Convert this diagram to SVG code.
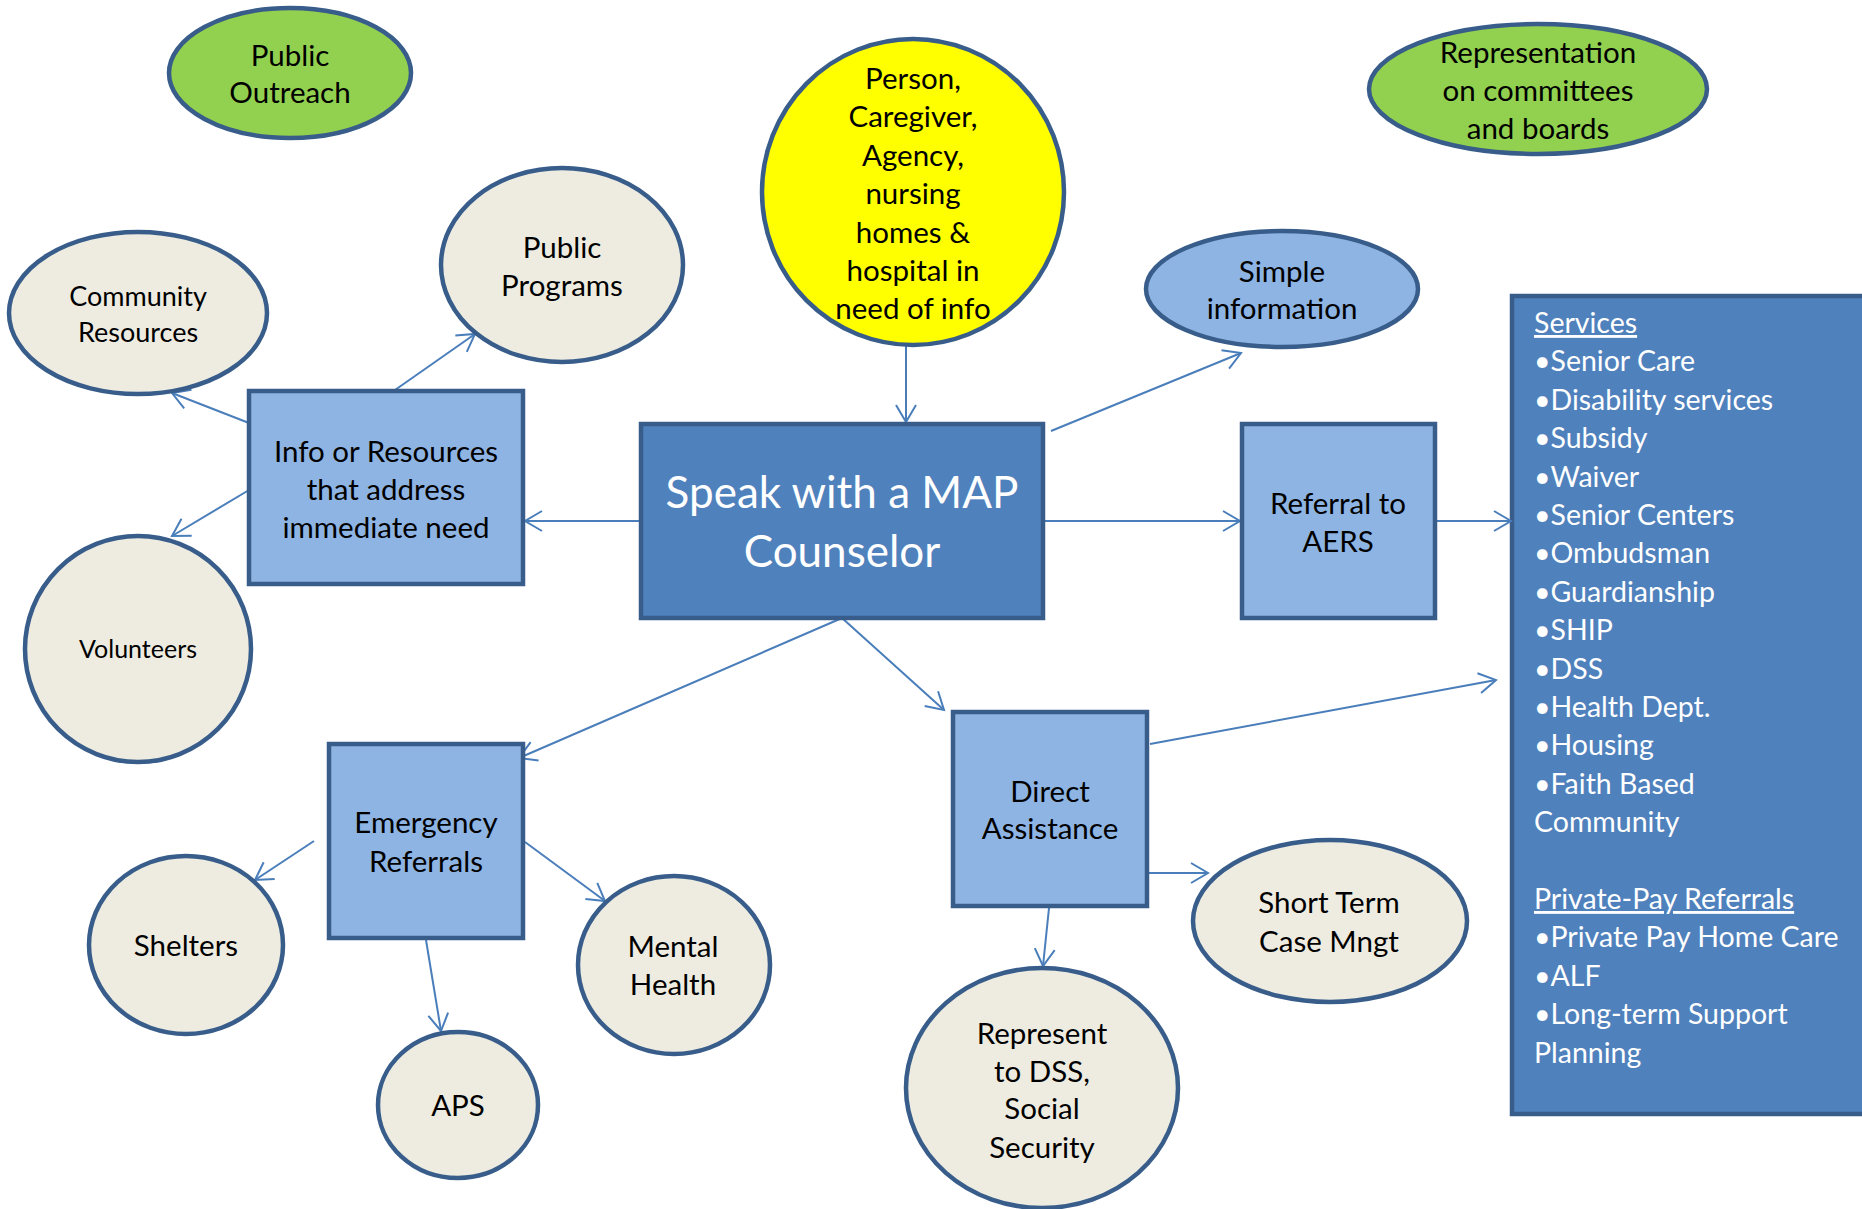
<svg xmlns="http://www.w3.org/2000/svg" width="1862" height="1209" viewBox="0 0 1862 1209">
<style>
.t{font-family:Lato,"Liberation Sans",sans-serif;font-size:29.5px;fill:#000;text-anchor:middle}
.w{fill:#fff}
.el{fill:#EEECE1;stroke:#385D8A;stroke-width:4.5}
.bx{fill:#8EB4E3;stroke:#385D8A;stroke-width:4.5}
.mb{fill:#4F81BD;stroke:#385D8A;stroke-width:4.5}
.gr{fill:#92D050;stroke:#385D8A;stroke-width:4.5}
.cn line{stroke:#4A7EBB;stroke-width:2;marker-end:url(#ah)}
.lst{font-family:Lato,"Liberation Sans",sans-serif;font-size:28.5px;fill:#fff}
</style>
<defs>
<marker id="ah" markerUnits="userSpaceOnUse" markerWidth="22" markerHeight="24" viewBox="0 0 22 24" refX="19" refY="12" orient="auto">
<path d="M2,2 L19,12 L2,22" fill="none" stroke="#4A7EBB" stroke-width="2"/>
</marker>
</defs>
<rect width="1862" height="1209" fill="#fff"/>

<g id="services">
<rect x="1512" y="296" width="370" height="818" class="mb"/>
<text class="lst"><tspan x="1534" y="333" text-decoration="underline">Services</tspan><tspan x="1534" y="371.4">•Senior Care</tspan><tspan x="1534" y="409.8">•Disability services</tspan><tspan x="1534" y="448.2">•Subsidy</tspan><tspan x="1534" y="486.6">•Waiver</tspan><tspan x="1534" y="525">•Senior Centers</tspan><tspan x="1534" y="563.4">•Ombudsman</tspan><tspan x="1534" y="601.8">•Guardianship</tspan><tspan x="1534" y="640.2">•SHIP</tspan><tspan x="1534" y="678.6">•DSS</tspan><tspan x="1534" y="717">•Health Dept.</tspan><tspan x="1534" y="755.4">•Housing</tspan><tspan x="1534" y="793.8">•Faith Based</tspan><tspan x="1534" y="832.2">Community</tspan><tspan x="1534" y="909" text-decoration="underline">Private-Pay Referrals</tspan><tspan x="1534" y="947.4">•Private Pay Home Care</tspan><tspan x="1534" y="985.8">•ALF</tspan><tspan x="1534" y="1024.2">•Long-term Support</tspan><tspan x="1534" y="1062.6">Planning</tspan></text>
</g>

<g id="connectors" class="cn">
<line x1="906" y1="346" x2="906" y2="422"/>
<line x1="1051" y1="431" x2="1241" y2="353"/>
<line x1="641" y1="521" x2="525" y2="521"/>
<line x1="1043" y1="521" x2="1240" y2="521"/>
<line x1="1435" y1="521" x2="1511" y2="521"/>
<line x1="842" y1="618" x2="944" y2="710"/>
<line x1="842" y1="618" x2="519" y2="758"/>
<line x1="1150" y1="744" x2="1496" y2="680"/>
<line x1="1149" y1="873" x2="1208" y2="873"/>
<line x1="1049" y1="908" x2="1043" y2="966"/>
<line x1="249" y1="423" x2="172" y2="393"/>
<line x1="395" y1="390" x2="475" y2="334"/>
<line x1="249" y1="490" x2="172" y2="536"/>
<line x1="314" y1="841" x2="255" y2="880"/>
<line x1="426" y1="940" x2="441" y2="1031"/>
<line x1="525" y1="842" x2="605" y2="901"/>
</g>

<g id="public-outreach">
<ellipse cx="290" cy="73" rx="121" ry="65" class="gr"/>
<text class="t"><tspan x="290" y="66">Public</tspan><tspan x="290" y="103">Outreach</tspan></text>
</g>

<g id="representation">
<ellipse cx="1538" cy="89" rx="169" ry="65" class="gr"/>
<text class="t"><tspan x="1538" y="63">Representation</tspan><tspan x="1538" y="101">on committees</tspan><tspan x="1538" y="139">and boards</tspan></text>
</g>

<g id="person">
<ellipse cx="913" cy="192" rx="151" ry="153" fill="#FFFF00" stroke="#385D8A" stroke-width="4.5"/>
<text class="t"><tspan x="913" y="89">Person,</tspan><tspan x="913" y="127.4">Caregiver,</tspan><tspan x="913" y="165.8">Agency,</tspan><tspan x="913" y="204.2">nursing</tspan><tspan x="913" y="242.6">homes &amp;</tspan><tspan x="913" y="281">hospital in</tspan><tspan x="913" y="319.4">need of info</tspan></text>
</g>

<g id="simple-information">
<ellipse cx="1282" cy="289" rx="136" ry="58" fill="#8EB4E3" stroke="#385D8A" stroke-width="4.5"/>
<text class="t"><tspan x="1282" y="282">Simple</tspan><tspan x="1282" y="319">information</tspan></text>
</g>

<g id="community-resources">
<ellipse cx="138" cy="313" rx="129" ry="81" class="el"/>
<text class="t" style="font-size:27px"><tspan x="138" y="306">Community</tspan><tspan x="138" y="342">Resources</tspan></text>
</g>

<g id="public-programs">
<ellipse cx="562" cy="265" rx="121" ry="97" class="el"/>
<text class="t"><tspan x="562" y="258">Public</tspan><tspan x="562" y="296">Programs</tspan></text>
</g>

<g id="info-resources">
<rect x="249" y="391" width="274" height="193" class="bx"/>
<text class="t"><tspan x="386" y="462">Info or Resources</tspan><tspan x="386" y="500">that address</tspan><tspan x="386" y="538">immediate need</tspan></text>
</g>

<g id="volunteers">
<ellipse cx="138" cy="649" rx="113" ry="113" class="el"/>
<text class="t" style="font-size:25px"><tspan x="138" y="658">Volunteers</tspan></text>
</g>

<g id="map-counselor">
<rect x="641" y="424" width="402" height="194" class="mb"/>
<text class="t w" style="font-size:44px"><tspan x="842" y="508">Speak with a MAP</tspan><tspan x="842" y="567">Counselor</tspan></text>
</g>

<g id="referral-aers">
<rect x="1242" y="424" width="193" height="194" class="bx"/>
<text class="t"><tspan x="1338" y="514">Referral to</tspan><tspan x="1338" y="552">AERS</tspan></text>
</g>

<g id="direct-assistance">
<rect x="953" y="712" width="194" height="194" class="bx"/>
<text class="t"><tspan x="1050" y="802">Direct</tspan><tspan x="1050" y="839">Assistance</tspan></text>
</g>

<g id="short-term">
<ellipse cx="1330" cy="921" rx="137" ry="81" class="el"/>
<text class="t"><tspan x="1329" y="913">Short Term</tspan><tspan x="1329" y="952">Case Mngt</tspan></text>
</g>

<g id="represent-dss">
<ellipse cx="1042" cy="1088" rx="136" ry="120" class="el"/>
<text class="t"><tspan x="1042" y="1044">Represent</tspan><tspan x="1042" y="1082">to DSS,</tspan><tspan x="1042" y="1119">Social</tspan><tspan x="1042" y="1158">Security</tspan></text>
</g>

<g id="emergency-referrals">
<rect x="329" y="744" width="194" height="194" class="bx"/>
<text class="t"><tspan x="426" y="833">Emergency</tspan><tspan x="426" y="872">Referrals</tspan></text>
</g>

<g id="shelters">
<ellipse cx="186" cy="945" rx="97" ry="89" class="el"/>
<text class="t"><tspan x="186" y="956">Shelters</tspan></text>
</g>

<g id="aps">
<ellipse cx="458" cy="1105" rx="80" ry="73" class="el"/>
<text class="t"><tspan x="458" y="1116">APS</tspan></text>
</g>

<g id="mental-health">
<ellipse cx="674" cy="965" rx="96" ry="89" class="el"/>
<text class="t"><tspan x="673" y="957">Mental</tspan><tspan x="673" y="995">Health</tspan></text>
</g>
</svg>
